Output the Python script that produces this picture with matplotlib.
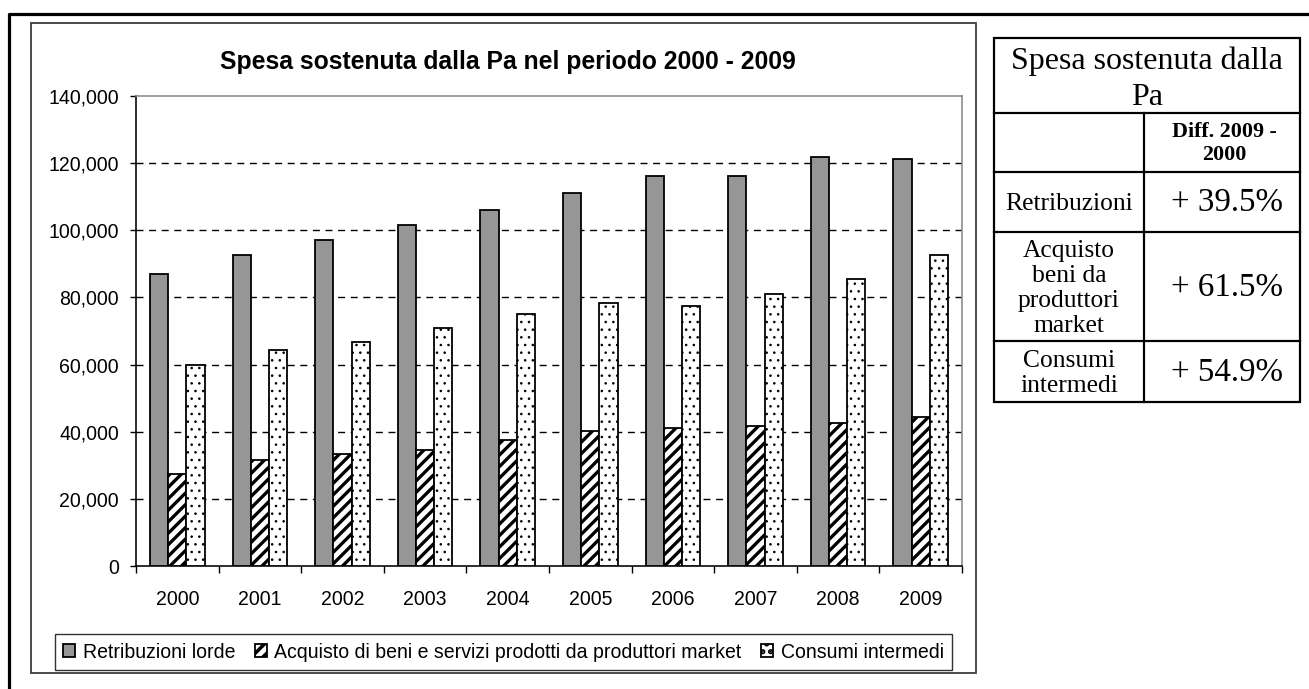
import matplotlib
matplotlib.use("Agg")
import matplotlib.pyplot as plt
import numpy as np
from matplotlib.ticker import FuncFormatter
from matplotlib.patches import Rectangle

# ---- data -------------------------------------------------------------
years = [2000, 2001, 2002, 2003, 2004, 2005, 2006, 2007, 2008, 2009]
retribuzioni = [86900, 92500, 97000, 101600, 106000, 111200, 116200, 116200, 121700, 121200]
acquisto = [27400, 31600, 33500, 34600, 37500, 40100, 41000, 41600, 42600, 44250]
consumi = [59800, 64300, 66800, 70800, 75000, 78400, 77500, 80900, 85500, 92600]
series_labels = [
    "Retribuzioni lorde",
    "Acquisto di beni e servizi prodotti da produttori market",
    "Consumi intermedi",
]
y_ticks = [0, 20000, 40000, 60000, 80000, 100000, 120000, 140000]
chart_title = "Spesa sostenuta dalla Pa nel periodo 2000 - 2009"

table_title = "Spesa sostenuta dalla\nPa"
table_col_header = "Diff. 2009 -\n2000"
table_rows = ["Retribuzioni", "Acquisto\nbeni da\nproduttori\nmarket", "Consumi\nintermedi"]
table_values = ["+ 39.5%", "+ 61.5%", "+ 54.9%"]

# ---- figure setup -----------------------------------------------------
W, H = 1309, 689
DPI = 138


def pt(px):
    """Convert a size in pixels to points at the figure dpi."""
    return px * 72.0 / DPI


plt.rcParams["font.family"] = ["Liberation Sans", "DejaVu Sans"]
plt.rcParams["hatch.color"] = "black"
plt.rcParams["hatch.linewidth"] = pt(3.5)

fig = plt.figure(figsize=(W / DPI, H / DPI), dpi=DPI)
fig.patch.set_facecolor("white")

# background layer in pixel units for frames and the side table
bg = fig.add_axes([0, 0, 1, 1], zorder=0)
bg.set_xlim(0, W)
bg.set_ylim(H, 0)
bg.axis("off")

# page frame (top and left edges)
bg.plot([9, 9, W + 5], [H + 5, 14, 14], color="black", lw=pt(3.2),
        solid_capstyle="projecting", clip_on=False)
# chart frame
bg.add_patch(Rectangle((31, 23), 945, 650, fill=False, ec="#3c3c3c", lw=pt(1.8)))

# ---- side table -------------------------------------------------------
tl, tr, tc = 994, 1300, 1144
rows_y = [38, 113, 172, 232, 341, 402]
tlw = pt(2.2)
bg.add_patch(Rectangle((tl, rows_y[0]), tr - tl, rows_y[-1] - rows_y[0],
                       fill=False, ec="black", lw=tlw))
for yy in rows_y[1:-1]:
    bg.plot([tl, tr], [yy, yy], color="black", lw=tlw)
bg.plot([tc, tc], [rows_y[1], rows_y[-1]], color="black", lw=tlw)

serif = ["Liberation Serif", "DejaVu Serif"]
bg.text((tl + tr) / 2, (rows_y[0] + rows_y[1]) / 2 + 4, table_title, ha="center",
        va="center", family=serif, fontsize=pt(32), linespacing=1.3)
bg.text((tc + tr) / 2 + 2, (rows_y[1] + rows_y[2]) / 2 + 1, table_col_header, ha="center",
        va="center", family=serif, fontsize=pt(22), weight="bold", linespacing=1.25)
for i, (lab, val) in enumerate(zip(table_rows, table_values)):
    yc = (rows_y[i + 2] + rows_y[i + 3]) / 2
    bg.text((tl + tc) / 2, yc + 2, lab, ha="center", va="center", family=serif,
            fontsize=pt(25.5), linespacing=1.17)
    bg.text((tc + tr) / 2 + 5, yc + 1, val, ha="center", va="center", family=serif,
            fontsize=pt(33))

# ---- bar chart --------------------------------------------------------
ax = fig.add_axes([136 / W, 1 - 566 / H, (962 - 136) / W, (566 - 96) / H], zorder=2)
x = np.arange(len(years))
w = 0.22
edge = pt(1.8)
b1 = ax.bar(x - w, retribuzioni, w, color="#969696", edgecolor="black", lw=edge, zorder=3)
b2 = ax.bar(x, acquisto, w, color="white", edgecolor="black", lw=edge, hatch="////", zorder=3)
b3 = ax.bar(x + w, consumi, w, color="white", edgecolor="black", lw=edge, hatch="...", zorder=3)

for bars, hlw in ((b2, pt(3.3)), (b3, pt(1.0))):
    for p in bars:
        if hasattr(p, "set_hatch_linewidth"):
            p.set_hatch_linewidth(hlw)

ax.set_xlim(-0.5, len(years) - 0.5)
ax.set_ylim(y_ticks[0], y_ticks[-1])
ax.set_yticks(y_ticks)
ax.yaxis.set_major_formatter(FuncFormatter(lambda v, _: f"{v:,.0f}"))
ax.set_xticks(x)
ax.set_xticklabels([str(y) for y in years])
ax.set_xticks(np.arange(-0.5, len(years), 1.0), minor=True)

ax.tick_params(axis="y", direction="out", length=pt(6), width=pt(1.4),
               pad=pt(11), labelsize=pt(19.5), colors="black")
ax.tick_params(axis="x", which="major", length=0, pad=pt(24), labelsize=pt(19.5))
ax.tick_params(axis="x", which="minor", direction="out", length=pt(7), width=pt(1.4))

ax.yaxis.grid(True, color="black", lw=pt(1.4), linestyle=(0, (5, 4)))
ax.set_axisbelow(True)
glines = ax.get_ygridlines()
glines[0].set_visible(False)
glines[-1].set_visible(False)

for side in ("left", "bottom"):
    ax.spines[side].set_color("black")
    ax.spines[side].set_linewidth(pt(1.6))
for side in ("top", "right"):
    ax.spines[side].set_color("#8a8a8a")
    ax.spines[side].set_linewidth(pt(1.6))

fig.text(508 / W, 1 - 62 / H, chart_title, ha="center", va="center",
         fontsize=pt(24.8), weight="bold")

leg = fig.legend([b1, b2, b3], series_labels, loc="center",
                 bbox_to_anchor=(503.5 / W, 1 - 652 / H), ncol=3, frameon=True,
                 fancybox=False, edgecolor="black", fontsize=pt(19.5),
                 handlelength=0.6, handleheight=0.6, handletextpad=0.4,
                 columnspacing=1.0, borderpad=0.42, borderaxespad=0)
leg.get_frame().set_linewidth(pt(1.4))

fig.savefig("out.png", dpi=DPI, facecolor="white")
